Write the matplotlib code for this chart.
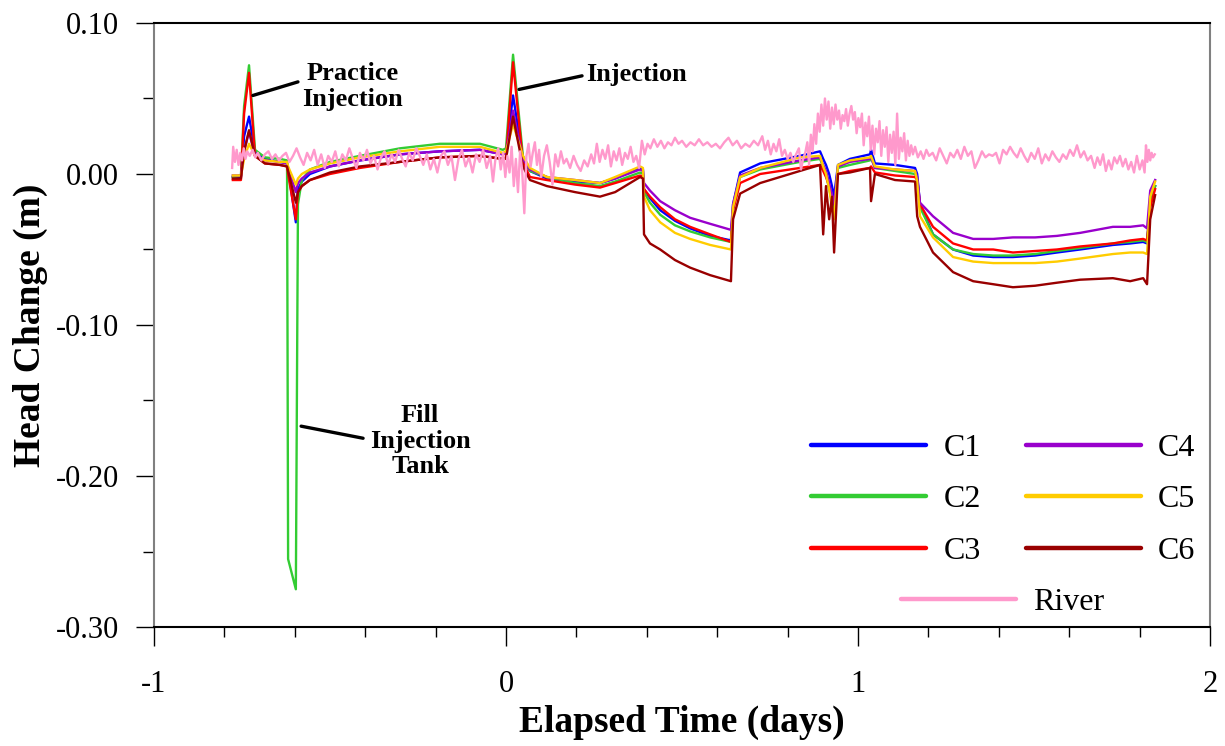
import matplotlib
matplotlib.use("Agg")
import matplotlib.pyplot as plt
from matplotlib.ticker import MultipleLocator, FormatStrFormatter
from matplotlib.lines import Line2D

plt.rcParams["font.family"] = ["Liberation Serif", "DejaVu Serif"]
plt.rcParams["axes.unicode_minus"] = False

# Shared sample times (days) for the well records
well_t = [-0.776, -0.753, -0.744, -0.730, -0.713, -0.685, -0.642, -0.622, -0.619,
          -0.597, -0.591, -0.580, -0.557, -0.500, -0.415, -0.301, -0.188, -0.074,
          -0.009, 0.000, 0.020, 0.048, 0.068, 0.116, 0.196, 0.267, 0.310, 0.381,
          0.389, 0.392, 0.409, 0.438, 0.480, 0.523, 0.580, 0.639, 0.645, 0.665,
          0.722, 0.835, 0.892, 0.901, 0.909, 0.918, 0.926, 0.932, 0.943, 0.977,
          1.034, 1.037, 1.048, 1.105, 1.162, 1.168, 1.176, 1.213, 1.270, 1.327,
          1.384, 1.440, 1.503, 1.565, 1.631, 1.724, 1.773, 1.810, 1.821, 1.830,
          1.844]

c1 = [-0.002, -0.002, 0.025, 0.038, 0.015, 0.010, 0.008, 0.007, 0.003,
      -0.032, -0.010, -0.005, 0.000, 0.005, 0.009, 0.013, 0.015, 0.016,
      0.013, 0.014, 0.052, 0.010, 0.002, -0.003, -0.005, -0.006, -0.003, 0.004,
      0.003, -0.010, -0.016, -0.024, -0.031, -0.036, -0.041, -0.044, -0.020, 0.001,
      0.007, 0.012, 0.015, 0.010, 0.006, 0.000, -0.008, -0.015, 0.006, 0.010,
      0.013, 0.016, 0.007, 0.006, 0.004, 0.000, -0.020, -0.040, -0.050, -0.054,
      -0.055, -0.055, -0.054, -0.052, -0.050, -0.047, -0.046, -0.045, -0.046, -0.020,
      -0.008]

c2 = [-0.002, -0.001, 0.045, 0.072, 0.016, 0.011, 0.010, 0.009, -0.255,
      -0.275, -0.020, -0.004, 0.003, 0.008, 0.012, 0.017, 0.020, 0.020,
      0.016, 0.017, 0.079, 0.012, 0.002, -0.002, -0.006, -0.008, -0.005, 0.001,
      0.000, -0.012, -0.019, -0.027, -0.034, -0.038, -0.042, -0.045, -0.022, -0.002,
      0.003, 0.008, 0.010, 0.005, 0.000, -0.010, -0.018, -0.025, 0.004, 0.006,
      0.009, 0.011, 0.004, 0.002, 0.000, -0.003, -0.022, -0.040, -0.050, -0.053,
      -0.054, -0.054, -0.053, -0.051, -0.049, -0.046, -0.045, -0.044, -0.045, -0.020,
      -0.008]

c3 = [-0.004, -0.004, 0.040, 0.067, 0.012, 0.007, 0.006, 0.005, 0.000,
      -0.030, -0.012, -0.008, -0.004, 0.000, 0.004, 0.008, 0.011, 0.012,
      0.010, 0.011, 0.074, 0.008, -0.002, -0.004, -0.007, -0.009, -0.006, -0.001,
      -0.002, -0.010, -0.015, -0.022, -0.030, -0.035, -0.040, -0.045, -0.024, -0.006,
      0.000, 0.004, 0.006, 0.002, -0.002, -0.008, -0.014, -0.020, 0.000, 0.002,
      0.004, 0.005, 0.001, -0.001, -0.002, -0.004, -0.020, -0.035, -0.046, -0.050,
      -0.050, -0.052, -0.051, -0.050, -0.048, -0.046, -0.044, -0.043, -0.044, -0.022,
      -0.010]

c4 = [-0.001, -0.001, 0.015, 0.028, 0.012, 0.009, 0.008, 0.007, 0.004,
      -0.012, -0.006, -0.003, 0.001, 0.005, 0.009, 0.013, 0.015, 0.016,
      0.013, 0.014, 0.042, 0.010, 0.003, -0.002, -0.004, -0.006, -0.003, 0.003,
      0.002, -0.006, -0.011, -0.018, -0.024, -0.029, -0.033, -0.037, -0.020, -0.001,
      0.004, 0.009, 0.011, 0.006, 0.002, -0.006, -0.014, -0.020, 0.005, 0.008,
      0.010, 0.011, 0.004, 0.003, 0.002, -0.002, -0.019, -0.028, -0.039, -0.043,
      -0.043, -0.042, -0.042, -0.041, -0.039, -0.035, -0.035, -0.034, -0.036, -0.011,
      -0.004]

c5 = [-0.001, -0.001, 0.010, 0.020, 0.012, 0.009, 0.008, 0.008, 0.005,
      -0.007, -0.003, 0.000, 0.003, 0.007, 0.011, 0.015, 0.018, 0.018,
      0.014, 0.015, 0.033, 0.012, 0.004, -0.002, -0.004, -0.006, -0.002, 0.005,
      0.004, -0.015, -0.024, -0.032, -0.039, -0.043, -0.047, -0.050, -0.022, -0.002,
      0.004, 0.011, 0.012, 0.005, 0.000, -0.010, -0.022, -0.030, 0.006, 0.009,
      0.011, 0.012, 0.005, 0.003, 0.002, -0.005, -0.028, -0.042, -0.055, -0.058,
      -0.059, -0.059, -0.059, -0.058, -0.056, -0.053, -0.052, -0.052, -0.053, -0.015,
      -0.005]

c6 = [-0.003, -0.003, 0.015, 0.029, 0.012, 0.007, 0.006, 0.005, 0.002,
      -0.019, -0.012, -0.008, -0.004, 0.001, 0.005, 0.008, 0.011, 0.012,
      0.010, 0.010, 0.038, 0.005, -0.004, -0.008, -0.012, -0.015, -0.012, -0.002,
      -0.003, -0.040, -0.046, -0.050, -0.057, -0.062, -0.067, -0.071, -0.030, -0.013,
      -0.006, 0.002, 0.006, -0.040, -0.008, -0.030, -0.015, -0.052, 0.000, 0.001,
      0.004, -0.018, 0.000, -0.004, -0.005, -0.028, -0.035, -0.052, -0.065, -0.071,
      -0.073, -0.075, -0.074, -0.072, -0.070, -0.069, -0.071, -0.069, -0.073, -0.030,
      -0.014]

# River stage record
river_t = [-0.778, -0.775, -0.770, -0.765, -0.760, -0.755, -0.750, -0.745, -0.740, -0.735,
           -0.728, -0.720, -0.712, -0.705, -0.695, -0.685, -0.675, -0.665, -0.655, -0.645,
           -0.635, -0.625, -0.615, -0.605, -0.595, -0.585, -0.575, -0.565, -0.555, -0.545,
           -0.535, -0.525, -0.515, -0.505, -0.495, -0.485, -0.475, -0.465, -0.455, -0.445,
           -0.435, -0.425, -0.415, -0.405, -0.395, -0.385, -0.375, -0.365, -0.355, -0.345,
           -0.335, -0.325, -0.315, -0.305, -0.295, -0.285, -0.275, -0.265, -0.255, -0.245,
           -0.235, -0.225, -0.215, -0.205, -0.195, -0.185, -0.175, -0.165, -0.155, -0.145,
           -0.135, -0.125, -0.115, -0.105, -0.095, -0.085, -0.075, -0.065, -0.055, -0.045,
           -0.037, -0.030, -0.022, -0.015, -0.008, -0.002, 0.004, 0.010, 0.016, 0.022,
           0.028, 0.034, 0.040, 0.046, 0.052, 0.058, 0.064, 0.070, 0.076, 0.082,
           0.088, 0.094, 0.100, 0.108, 0.116, 0.124, 0.132, 0.140, 0.148, 0.156,
           0.164, 0.172, 0.182, 0.192, 0.202, 0.212, 0.222, 0.232, 0.242, 0.250,
           0.258, 0.266, 0.274, 0.282, 0.290, 0.298, 0.306, 0.314, 0.322, 0.330,
           0.338, 0.346, 0.354, 0.362, 0.370, 0.378, 0.386, 0.394, 0.402, 0.410,
           0.420, 0.430, 0.440, 0.450, 0.460, 0.470, 0.480, 0.490, 0.500, 0.512,
           0.524, 0.536, 0.548, 0.560, 0.572, 0.584, 0.596, 0.608, 0.620, 0.632,
           0.644, 0.656, 0.668, 0.680, 0.692, 0.704, 0.716, 0.728, 0.736, 0.744,
           0.752, 0.760, 0.768, 0.776, 0.784, 0.792, 0.800, 0.808, 0.816, 0.824,
           0.832, 0.838, 0.844, 0.850, 0.856, 0.861, 0.866, 0.871, 0.876, 0.881,
           0.886, 0.891, 0.896, 0.901, 0.906, 0.911, 0.916, 0.921, 0.926, 0.931,
           0.936, 0.941, 0.946, 0.951, 0.956, 0.961, 0.966, 0.971, 0.976, 0.981,
           0.986, 0.991, 0.996, 1.001, 1.006, 1.011, 1.016, 1.021, 1.026, 1.031,
           1.036, 1.041, 1.046, 1.051, 1.056, 1.061, 1.066, 1.071, 1.076, 1.081,
           1.086, 1.091, 1.096, 1.101, 1.106, 1.111, 1.116, 1.121, 1.126, 1.131,
           1.136, 1.141, 1.146, 1.151, 1.156, 1.162, 1.170, 1.178, 1.186, 1.194,
           1.202, 1.212, 1.222, 1.232, 1.242, 1.252, 1.262, 1.272, 1.282, 1.292,
           1.302, 1.312, 1.322, 1.332, 1.342, 1.352, 1.362, 1.372, 1.382, 1.392,
           1.402, 1.412, 1.422, 1.432, 1.442, 1.452, 1.462, 1.472, 1.482, 1.492,
           1.502, 1.512, 1.522, 1.532, 1.542, 1.552, 1.562, 1.572, 1.582, 1.592,
           1.602, 1.612, 1.622, 1.632, 1.642, 1.652, 1.662, 1.672, 1.680, 1.688,
           1.696, 1.704, 1.712, 1.720, 1.728, 1.736, 1.744, 1.752, 1.760, 1.768,
           1.776, 1.784, 1.792, 1.800, 1.808, 1.814, 1.818, 1.822, 1.826, 1.830,
           1.834, 1.838, 1.843]

river_v = [0.004, 0.018, 0.008, 0.016, 0.006, 0.014, 0.009, 0.017, 0.010, 0.015,
           0.012, 0.016, 0.011, 0.014, 0.009, 0.013, 0.015, 0.010, 0.013, 0.009,
           0.012, 0.014, 0.008, 0.012, 0.017, 0.011, 0.006, 0.014, 0.009, 0.016,
           0.006, 0.013, 0.004, 0.012, 0.008, 0.015, 0.005, 0.013, 0.009, 0.017,
           0.010, 0.004, 0.014, 0.009, 0.016, 0.007, 0.012, 0.003, 0.011, 0.015,
           0.006, 0.013, 0.008, 0.016, 0.010, 0.005, 0.014, 0.009, 0.017, 0.012,
           0.006, 0.013, 0.003, 0.010, 0.001, 0.012, 0.015, 0.006, 0.012, -0.004,
           0.010, 0.016, 0.005, 0.011, 0.001, 0.013, 0.008, 0.016, 0.004, 0.012,
           -0.005, 0.010, 0.017, 0.003, 0.014, -0.002, 0.012, 0.001, 0.018, -0.008,
           0.010, -0.012, 0.015, 0.002, -0.026, 0.012, 0.020, 0.005, 0.014, 0.021,
           0.006, 0.016, -0.002, 0.012, 0.019, 0.008, -0.007, 0.013, 0.005, 0.015,
           0.007, 0.010, 0.004, 0.012, 0.006, 0.002, 0.009, 0.005, 0.013, 0.007,
           0.020, 0.008, 0.016, 0.010, 0.019, 0.005, 0.015, 0.009, 0.017, 0.006,
           0.014, 0.010, 0.018, 0.008, 0.012, 0.004, 0.022, 0.013, 0.020, 0.017,
           0.023, 0.018, 0.022, 0.017, 0.021, 0.019, 0.024, 0.020, 0.022, 0.018,
           0.021, 0.019, 0.023, 0.019, 0.021, 0.018, 0.020, 0.017, 0.021, 0.024,
           0.019, 0.022, 0.017, 0.020, 0.018, 0.022, 0.019, 0.025, 0.016, 0.022,
           0.013, 0.020, 0.015, 0.023, 0.012, 0.016, 0.010, 0.014, 0.008, 0.013,
           0.017, 0.003, 0.010, 0.014, 0.021, 0.006, 0.026, 0.015, 0.033, 0.020,
           0.040, 0.028, 0.046, 0.032, 0.050, 0.036, 0.048, 0.030, 0.044, 0.033,
           0.046, 0.036, 0.042, 0.030, 0.039, 0.035, 0.043, 0.032, 0.040, 0.045,
           0.036, 0.041, 0.027, 0.037, 0.031, 0.040, 0.019, 0.034, 0.025, 0.038,
           0.016, 0.032, 0.013, 0.030, 0.021, 0.035, 0.012, 0.029, 0.018, 0.031,
           0.008, 0.026, 0.014, 0.028, 0.006, 0.040, 0.010, 0.024, 0.015, 0.027,
           0.009, 0.022, 0.012, 0.019, 0.013, 0.018, 0.011, 0.015, 0.010, 0.016,
           0.012, 0.014, 0.009, 0.017, 0.012, 0.007, 0.014, 0.011, 0.016, 0.010,
           0.018, 0.012, 0.015, 0.004, 0.009, 0.015, 0.011, 0.013, 0.012, 0.014,
           0.007, 0.016, 0.013, 0.018, 0.014, 0.011, 0.017, 0.012, 0.008, 0.014,
           0.010, 0.017, 0.007, 0.013, 0.009, 0.015, 0.011, 0.008, 0.013, 0.010,
           0.016, 0.012, 0.019, 0.011, 0.015, 0.009, 0.012, 0.004, 0.011, 0.006,
           0.013, 0.002, 0.009, 0.003, 0.011, 0.007, 0.012, 0.005, 0.010, 0.003,
           0.008, 0.001, 0.012, 0.003, 0.009, 0.001, 0.019, 0.008, 0.016, 0.009,
           0.014, 0.011, 0.013]

series_names = ["C1", "C2", "C3", "C4", "C5", "C6"]
series_values = [c1, c2, c3, c4, c5, c6]
series_colors = ["#0000FF", "#33CC33", "#FF0000", "#9900CC", "#FFCC00", "#990000"]
river_color = "#FF99CC"

x_ticks = [-1, 0, 1, 2]
y_ticks = [-0.30, -0.20, -0.10, 0.00, 0.10]

fig = plt.figure(figsize=(12.25, 7.46), dpi=100)
ax = fig.add_axes([0.1257, 0.1595, 0.8621, 0.8097])

for name, vals, col in zip(series_names, series_values, series_colors):
    ax.plot(well_t, vals, color=col, lw=1.7, label=name)
ax.plot(river_t, river_v, color=river_color, lw=1.7, label="River")

ax.set_xlim(-1, 2)
ax.set_ylim(-0.30, 0.10)
ax.set_xticks(x_ticks)
ax.set_yticks(y_ticks)
ax.xaxis.set_minor_locator(MultipleLocator(0.2))
ax.yaxis.set_minor_locator(MultipleLocator(0.05))
ax.yaxis.set_major_formatter(FormatStrFormatter("%.2f"))
ax.xaxis.set_major_formatter(FormatStrFormatter("%d"))

ax.tick_params(axis="x", which="major", direction="out", length=14, width=1.0,
               labelsize=22, pad=17)
ax.tick_params(axis="x", which="minor", direction="out", length=7, width=1.0)
ax.tick_params(axis="y", which="major", direction="out", length=13, width=1.0,
               labelsize=22, pad=12)
ax.tick_params(axis="y", which="minor", direction="out", length=8, width=1.0)

for side in ["top", "bottom"]:
    ax.spines[side].set_color("black")
    ax.spines[side].set_linewidth(1.5)
for side in ["left", "right"]:
    ax.spines[side].set_color("#808080")
    ax.spines[side].set_linewidth(1.5)

ax.set_xlabel("Elapsed Time (days)", fontsize=27, fontweight="bold", labelpad=4)
ax.set_ylabel("Head Change (m)", fontsize=27, fontweight="bold", labelpad=6)

# Event annotations
line_kw = dict(arrowstyle="-", lw=2.4, color="black", shrinkA=0, shrinkB=0)
text_kw = dict(fontsize=19, fontweight="bold", linespacing=1.15)

ax.annotate("", xy=(-0.719, 0.052), xytext=(-0.591, 0.061), arrowprops=line_kw)
ax.text(-0.435, 0.058, "Practice\nInjection", ha="center", va="center", **text_kw)

ax.annotate("", xy=(0.037, 0.056), xytext=(0.216, 0.065), arrowprops=line_kw)
ax.text(0.227, 0.066, "Injection", ha="left", va="center", **text_kw)

ax.annotate("", xy=(-0.582, -0.167), xytext=(-0.406, -0.175), arrowprops=line_kw)
ax.text(-0.244, -0.177, "Fill\nInjection\nTank", ha="center", va="center", **text_kw)

# Legends: two columns of wells, river entry centred beneath
well_handles = [Line2D([], [], color=c, lw=3.2, solid_capstyle="round") for c in series_colors]
leg1 = ax.legend(well_handles, series_names, ncol=2, loc="upper left",
                 bbox_to_anchor=(0.622, 0.320), frameon=False, fontsize=23,
                 handlelength=3.6, handletextpad=0.55, columnspacing=1.4,
                 labelspacing=0.69, borderpad=0, borderaxespad=0)
ax.add_artist(leg1)
river_handle = [Line2D([], [], color=river_color, lw=3.2, solid_capstyle="round")]
ax.legend(river_handle, ["River"], loc="upper left", bbox_to_anchor=(0.707, 0.065),
          frameon=False, fontsize=23, handlelength=3.6, handletextpad=0.55,
          borderpad=0, borderaxespad=0)

fig.savefig("out.png", dpi=100)
